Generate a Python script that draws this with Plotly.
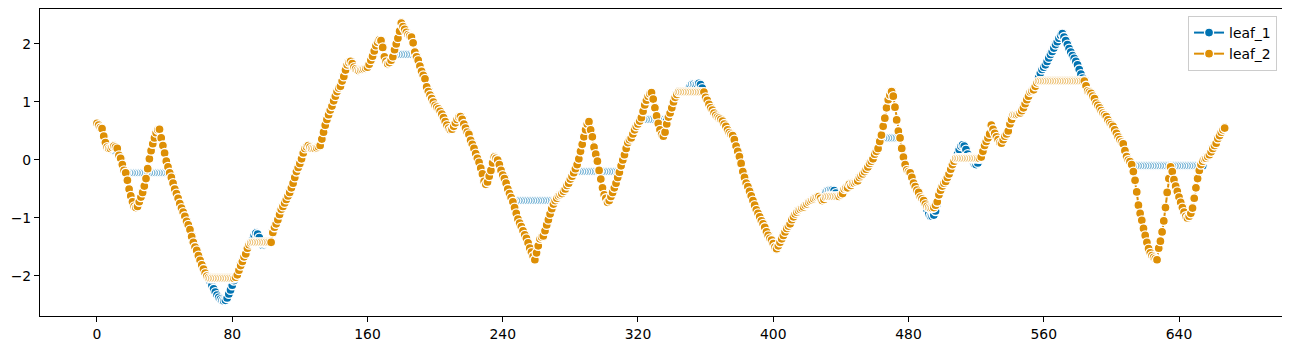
import plotly.graph_objects as go

# ---- data ----
leaf_1 = [
    0.63, 0.6, 0.56, 0.54, 0.41, 0.3, 0.22, 0.2, 0.19, 0.17,
    0.16, 0.15, 0.14, 0.08, 0.03, -0.08, -0.18, -0.22, -0.22, -0.22,
    -0.22, -0.22, -0.22, -0.22, -0.22, -0.22, -0.22, -0.22, -0.22, -0.22,
    -0.22, -0.22, -0.22, -0.22, -0.22, -0.22, -0.22, -0.22, -0.22, -0.22,
    -0.22, -0.22, -0.22, -0.22, -0.3, -0.4, -0.5, -0.58, -0.66, -0.75,
    -0.83, -0.9, -0.97, -1.06, -1.12, -1.2, -1.32, -1.42, -1.5, -1.56,
    -1.65, -1.73, -1.81, -1.88, -1.95, -2.0, -2.04, -2.1, -2.16, -2.22,
    -2.28, -2.33, -2.37, -2.4, -2.42, -2.43, -2.42, -2.38, -2.31, -2.24,
    -2.16, -2.08, -2.02, -1.98, -1.9, -1.82, -1.75, -1.67, -1.62, -1.52,
    -1.46, -1.42, -1.38, -1.3, -1.26, -1.28, -1.34, -1.44, -1.47, -1.46,
    -1.44, -1.42, -1.42, -1.42, -1.25, -1.16, -1.1, -1.03, -0.94, -0.85,
    -0.8, -0.74, -0.68, -0.62, -0.56, -0.48, -0.4, -0.3, -0.2, -0.13,
    -0.06, 0.02, 0.12, 0.2, 0.23, 0.25, 0.22, 0.2, 0.2, 0.2,
    0.21, 0.23, 0.25, 0.36, 0.48, 0.6, 0.7, 0.78, 0.86, 0.93,
    1.02, 1.1, 1.18, 1.24, 1.27, 1.36, 1.44, 1.55, 1.64, 1.68,
    1.7, 1.66, 1.6, 1.57, 1.55, 1.54, 1.55, 1.56, 1.57, 1.58,
    1.6, 1.65, 1.72, 1.79, 1.88, 1.97, 2.03, 2.07, 2.06, 1.94,
    1.78, 1.7, 1.66, 1.68, 1.72, 1.78, 1.82, 1.82, 1.82, 1.82,
    1.82, 1.82, 1.82, 1.82, 1.82, 1.82, 1.82, 1.82, 1.82, 1.78,
    1.72, 1.62, 1.53, 1.46, 1.4, 1.26, 1.18, 1.12, 1.06, 1.0,
    0.94, 0.91, 0.88, 0.84, 0.79, 0.73, 0.66, 0.6, 0.55, 0.52,
    0.53, 0.58, 0.64, 0.7, 0.74, 0.75, 0.7, 0.62, 0.55, 0.48,
    0.44, 0.34, 0.27, 0.2, 0.11, 0.03, -0.04, -0.14, -0.24, -0.37,
    -0.42, -0.38, -0.28, -0.18, -0.05, 0.05, 0.03, 0.0, -0.08, -0.18,
    -0.26, -0.32, -0.4, -0.5, -0.58, -0.65, -0.7, -0.7, -0.7, -0.7,
    -0.7, -0.7, -0.7, -0.7, -0.7, -0.7, -0.7, -0.7, -0.7, -0.7,
    -0.7, -0.7, -0.7, -0.7, -0.7, -0.7, -0.7, -0.7, -0.7, -0.7,
    -0.7, -0.7, -0.66, -0.62, -0.6, -0.58, -0.54, -0.5, -0.44, -0.4,
    -0.33, -0.28, -0.22, -0.2, -0.2, -0.2, -0.2, -0.2, -0.2, -0.2,
    -0.2, -0.2, -0.2, -0.2, -0.2, -0.2, -0.2, -0.2, -0.2, -0.2,
    -0.2, -0.2, -0.2, -0.2, -0.2, -0.2, -0.2, -0.2, -0.2, -0.2,
    -0.1, 0.0, 0.09, 0.2, 0.3, 0.35, 0.38, 0.45, 0.52, 0.58,
    0.62, 0.67, 0.7, 0.7, 0.7, 0.7, 0.7, 0.7, 0.7, 0.7,
    0.7, 0.7, 0.7, 0.7, 0.7, 0.7, 0.7, 0.7, 0.74, 0.81,
    0.9, 1.0, 1.08, 1.13, 1.17, 1.17, 1.17, 1.17, 1.17, 1.17,
    1.22, 1.28, 1.31, 1.31, 1.3, 1.31, 1.32, 1.3, 1.24, 1.17,
    1.08, 1.03, 0.96, 0.9, 0.86, 0.81, 0.77, 0.74, 0.72, 0.7,
    0.67, 0.62, 0.58, 0.52, 0.47, 0.44, 0.42, 0.35, 0.24, 0.15,
    0.06, -0.06, -0.2, -0.3, -0.4, -0.46, -0.54, -0.62, -0.7, -0.78,
    -0.86, -0.92, -0.98, -1.05, -1.1, -1.16, -1.24, -1.3, -1.35, -1.38,
    -1.44, -1.5, -1.53, -1.48, -1.42, -1.36, -1.3, -1.24, -1.18, -1.14,
    -1.1, -1.03, -0.98, -0.93, -0.9, -0.87, -0.85, -0.83, -0.81, -0.78,
    -0.76, -0.73, -0.71, -0.69, -0.67, -0.65, -0.64, -0.63, -0.66, -0.7,
    -0.68, -0.56, -0.53, -0.52, -0.52, -0.52, -0.53, -0.57, -0.63, -0.63,
    -0.6, -0.58, -0.5, -0.48, -0.48, -0.42, -0.44, -0.4, -0.4, -0.38,
    -0.36, -0.3, -0.27, -0.24, -0.2, -0.16, -0.12, -0.06, -0.02, 0.02,
    0.1, 0.15, 0.2, 0.32, 0.38, 0.38, 0.38, 0.38, 0.38, 0.38,
    0.38, 0.38, 0.38, 0.38, 0.38, 0.38, 0.2, 0.05, -0.08, -0.17,
    -0.2, -0.22, -0.3, -0.4, -0.46, -0.52, -0.56, -0.64, -0.67, -0.72,
    -0.78, -0.86, -0.93, -0.97, -0.97, -0.95, -0.88, -0.76, -0.6, -0.52,
    -0.45, -0.4, -0.37, -0.3, -0.24, -0.16, -0.08, -0.02, 0.03, 0.1,
    0.18, 0.24, 0.26, 0.24, 0.18, 0.1, 0.05, 0.03, -0.02, -0.07,
    -0.08, -0.05, 0.02, 0.05, 0.15, 0.25, 0.32, 0.38, 0.45, 0.6,
    0.53, 0.46, 0.4, 0.35, 0.3, 0.29, 0.35, 0.41, 0.45, 0.5,
    0.62, 0.7, 0.78, 0.78, 0.78, 0.79, 0.81, 0.85, 0.9, 0.97,
    1.04, 1.1, 1.17, 1.19, 1.21, 1.27, 1.33, 1.42, 1.5, 1.56,
    1.6, 1.64, 1.7, 1.76, 1.82, 1.87, 1.93, 1.99, 2.04, 2.1,
    2.15, 2.18, 2.12, 2.06, 1.99, 1.92, 1.86, 1.8, 1.75, 1.7,
    1.64, 1.56, 1.48, 1.41, 1.37, 1.28, 1.19, 1.17, 1.15, 1.1,
    1.06, 0.98, 0.94, 0.9, 0.85, 0.81, 0.78, 0.75, 0.69, 0.64,
    0.61, 0.58, 0.52, 0.46, 0.4, 0.35, 0.31, 0.28, 0.16, 0.06,
    0.0, -0.03, -0.08, -0.1, -0.1, -0.1, -0.1, -0.1, -0.1, -0.1,
    -0.1, -0.1, -0.1, -0.1, -0.1, -0.1, -0.1, -0.1, -0.1, -0.1,
    -0.1, -0.1, -0.1, -0.1, -0.1, -0.1, -0.1, -0.1, -0.1, -0.1,
    -0.1, -0.1, -0.1, -0.1, -0.1, -0.1, -0.1, -0.1, -0.1, -0.1,
    -0.1, -0.1, -0.1, -0.1, -0.1, 0.02, 0.03, 0.06, 0.09, 0.14,
    0.2, 0.25, 0.29, 0.37, 0.42, 0.48, 0.52, 0.55,
]

leaf_2 = [
    0.63, 0.6, 0.56, 0.54, 0.41, 0.3, 0.22, 0.2, 0.2, 0.22,
    0.24, 0.22, 0.2, 0.08, 0.03, -0.08, -0.18, -0.22, -0.35, -0.5,
    -0.62, -0.72, -0.8, -0.82, -0.8, -0.72, -0.64, -0.56, -0.45, -0.32,
    -0.15, 0.02, 0.16, 0.28, 0.38, 0.47, 0.52, 0.53, 0.38, 0.25,
    0.12, -0.02, -0.12, -0.22, -0.3, -0.4, -0.5, -0.58, -0.66, -0.75,
    -0.83, -0.9, -0.97, -1.06, -1.12, -1.2, -1.32, -1.42, -1.5, -1.56,
    -1.65, -1.73, -1.81, -1.88, -1.95, -2.0, -2.03, -2.04, -2.04, -2.04,
    -2.04, -2.04, -2.04, -2.04, -2.04, -2.04, -2.04, -2.04, -2.04, -2.04,
    -2.04, -2.04, -2.02, -1.98, -1.9, -1.82, -1.75, -1.67, -1.62, -1.52,
    -1.46, -1.43, -1.42, -1.42, -1.42, -1.42, -1.42, -1.42, -1.42, -1.42,
    -1.42, -1.42, -1.42, -1.42, -1.25, -1.16, -1.1, -1.03, -0.94, -0.85,
    -0.8, -0.74, -0.68, -0.62, -0.56, -0.48, -0.4, -0.3, -0.2, -0.13,
    -0.06, 0.02, 0.12, 0.2, 0.23, 0.25, 0.22, 0.2, 0.2, 0.2,
    0.21, 0.23, 0.25, 0.36, 0.48, 0.6, 0.7, 0.78, 0.86, 0.93,
    1.02, 1.1, 1.18, 1.24, 1.27, 1.36, 1.44, 1.55, 1.64, 1.68,
    1.7, 1.66, 1.6, 1.57, 1.55, 1.54, 1.55, 1.56, 1.57, 1.58,
    1.6, 1.65, 1.72, 1.79, 1.88, 1.97, 2.03, 2.07, 2.06, 1.94,
    1.78, 1.7, 1.66, 1.68, 1.72, 1.78, 1.9, 2.0, 2.1, 2.22,
    2.36, 2.3, 2.25, 2.2, 2.16, 2.14, 2.12, 2.02, 1.86, 1.78,
    1.72, 1.62, 1.53, 1.46, 1.4, 1.26, 1.18, 1.12, 1.06, 1.0,
    0.94, 0.91, 0.88, 0.84, 0.79, 0.73, 0.66, 0.6, 0.55, 0.52,
    0.53, 0.58, 0.64, 0.7, 0.74, 0.75, 0.7, 0.62, 0.55, 0.48,
    0.44, 0.34, 0.27, 0.2, 0.11, 0.03, -0.04, -0.14, -0.24, -0.37,
    -0.42, -0.38, -0.28, -0.18, -0.05, 0.05, 0.03, 0.0, -0.08, -0.18,
    -0.26, -0.32, -0.4, -0.5, -0.58, -0.65, -0.72, -0.82, -0.92, -1.02,
    -1.09, -1.15, -1.22, -1.29, -1.35, -1.43, -1.52, -1.59, -1.66, -1.72,
    -1.6, -1.48, -1.36, -1.33, -1.31, -1.22, -1.12, -1.03, -0.93, -0.84,
    -0.76, -0.7, -0.66, -0.62, -0.6, -0.58, -0.54, -0.5, -0.44, -0.4,
    -0.33, -0.28, -0.22, -0.15, -0.08, 0.02, 0.15, 0.27, 0.4, 0.52,
    0.62, 0.66, 0.52, 0.4, 0.22, 0.1, -0.02, -0.18, -0.33, -0.48,
    -0.6, -0.66, -0.73, -0.7, -0.63, -0.56, -0.48, -0.4, -0.3, -0.21,
    -0.1, 0.0, 0.09, 0.2, 0.3, 0.35, 0.38, 0.45, 0.52, 0.58,
    0.62, 0.67, 0.73, 0.84, 0.95, 1.03, 1.1, 1.14, 1.16, 1.05,
    0.9, 0.76, 0.63, 0.52, 0.44, 0.41, 0.48, 0.62, 0.74, 0.81,
    0.9, 1.0, 1.08, 1.13, 1.17, 1.17, 1.17, 1.17, 1.17, 1.17,
    1.17, 1.17, 1.17, 1.17, 1.17, 1.17, 1.17, 1.17, 1.17, 1.17,
    1.08, 1.03, 0.96, 0.9, 0.86, 0.81, 0.77, 0.74, 0.72, 0.7,
    0.67, 0.62, 0.58, 0.52, 0.47, 0.44, 0.42, 0.35, 0.24, 0.15,
    0.06, -0.06, -0.2, -0.3, -0.4, -0.46, -0.54, -0.62, -0.7, -0.78,
    -0.86, -0.92, -0.98, -1.05, -1.1, -1.16, -1.24, -1.3, -1.35, -1.38,
    -1.44, -1.5, -1.53, -1.48, -1.42, -1.36, -1.3, -1.24, -1.18, -1.14,
    -1.1, -1.03, -0.98, -0.93, -0.9, -0.87, -0.85, -0.83, -0.81, -0.78,
    -0.76, -0.73, -0.71, -0.69, -0.67, -0.65, -0.64, -0.63, -0.66, -0.7,
    -0.68, -0.64, -0.63, -0.63, -0.63, -0.63, -0.63, -0.63, -0.63, -0.63,
    -0.6, -0.58, -0.5, -0.48, -0.48, -0.42, -0.44, -0.4, -0.4, -0.38,
    -0.36, -0.3, -0.27, -0.24, -0.2, -0.16, -0.12, -0.06, -0.02, 0.02,
    0.1, 0.15, 0.2, 0.32, 0.43, 0.58, 0.72, 0.9, 1.04, 1.12,
    1.18, 1.1, 0.91, 0.69, 0.5, 0.38, 0.2, 0.05, -0.08, -0.17,
    -0.2, -0.22, -0.3, -0.4, -0.46, -0.52, -0.56, -0.64, -0.67, -0.7,
    -0.76, -0.8, -0.82, -0.83, -0.83, -0.82, -0.78, -0.72, -0.6, -0.52,
    -0.45, -0.4, -0.37, -0.3, -0.24, -0.16, -0.08, -0.02, 0.03, 0.03,
    0.03, 0.03, 0.03, 0.03, 0.03, 0.03, 0.03, 0.03, 0.03, 0.03,
    0.03, 0.03, 0.03, 0.05, 0.15, 0.25, 0.32, 0.38, 0.45, 0.6,
    0.53, 0.46, 0.4, 0.35, 0.3, 0.29, 0.35, 0.41, 0.45, 0.5,
    0.62, 0.7, 0.78, 0.78, 0.78, 0.79, 0.81, 0.85, 0.9, 0.97,
    1.04, 1.1, 1.17, 1.19, 1.21, 1.27, 1.33, 1.36, 1.36, 1.36,
    1.36, 1.36, 1.36, 1.36, 1.36, 1.36, 1.36, 1.36, 1.36, 1.36,
    1.36, 1.36, 1.36, 1.36, 1.36, 1.36, 1.36, 1.36, 1.36, 1.36,
    1.36, 1.36, 1.36, 1.36, 1.36, 1.28, 1.19, 1.17, 1.15, 1.1,
    1.06, 0.98, 0.94, 0.9, 0.85, 0.81, 0.78, 0.75, 0.69, 0.64,
    0.61, 0.58, 0.52, 0.46, 0.4, 0.35, 0.31, 0.28, 0.16, 0.06,
    0.0, -0.03, -0.08, -0.2, -0.35, -0.55, -0.78, -0.92, -1.04, -1.18,
    -1.3, -1.42, -1.53, -1.6, -1.65, -1.68, -1.7, -1.72, -1.52, -1.4,
    -1.24, -1.05, -0.82, -0.56, -0.32, -0.12, -0.2, -0.34, -0.45, -0.54,
    -0.64, -0.73, -0.82, -0.9, -0.97, -1.0, -0.97, -0.92, -0.83, -0.66,
    -0.48, -0.32, -0.18, -0.08, -0.02, 0.02, 0.03, 0.06, 0.09, 0.14,
    0.2, 0.25, 0.29, 0.37, 0.42, 0.48, 0.52, 0.55,
]

steps = list(range(len(leaf_2)))
series_names = ["leaf_1", "leaf_2"]
series_colors = ["#0173b2", "#de8f05"]
x_tick_values = [0, 80, 160, 240, 320, 400, 480, 560, 640]
y_tick_values = [-2, -1, 0, 1, 2]

fig = go.Figure()
for name, vals, col in zip(series_names, [leaf_1, leaf_2], series_colors):
    fig.add_trace(go.Scatter(
        x=steps[:len(vals)], y=vals, name=name, mode="lines+markers",
        line=dict(color=col, width=2),
        marker=dict(symbol="circle", size=9, color=col,
                    line=dict(color="white", width=1.3)),
    ))

axis_common = dict(
    showgrid=False, zeroline=False, showline=True, mirror=True,
    linecolor="black", linewidth=1.1, ticks="outside", ticklen=5,
    tickwidth=1.1, tickcolor="black", automargin=False,
    tickfont=dict(family="DejaVu Sans", size=13.9, color="black"),
)
fig.update_xaxes(range=[-33.7, 702.1], tickvals=x_tick_values, **axis_common)
fig.update_yaxes(range=[-2.69, 2.603], tickvals=y_tick_values, **axis_common)

# the page places the figure 8 px from the top-left corner of the window
fig.update_layout(
    width=1282, height=343,
    margin=dict(l=32, r=6, t=1, b=35, autoexpand=False),
    plot_bgcolor="white", paper_bgcolor="white",
    font=dict(family="DejaVu Sans", size=13.9, color="black"),
    legend=dict(
        x=0.9944, y=0.977, xanchor="right", yanchor="top",
        bgcolor="rgba(255,255,255,0.8)", bordercolor="#cccccc", borderwidth=1,
        font=dict(family="DejaVu Sans", size=13.9, color="black"),
        itemwidth=30,
    ),
)

fig.write_html("out.html")
